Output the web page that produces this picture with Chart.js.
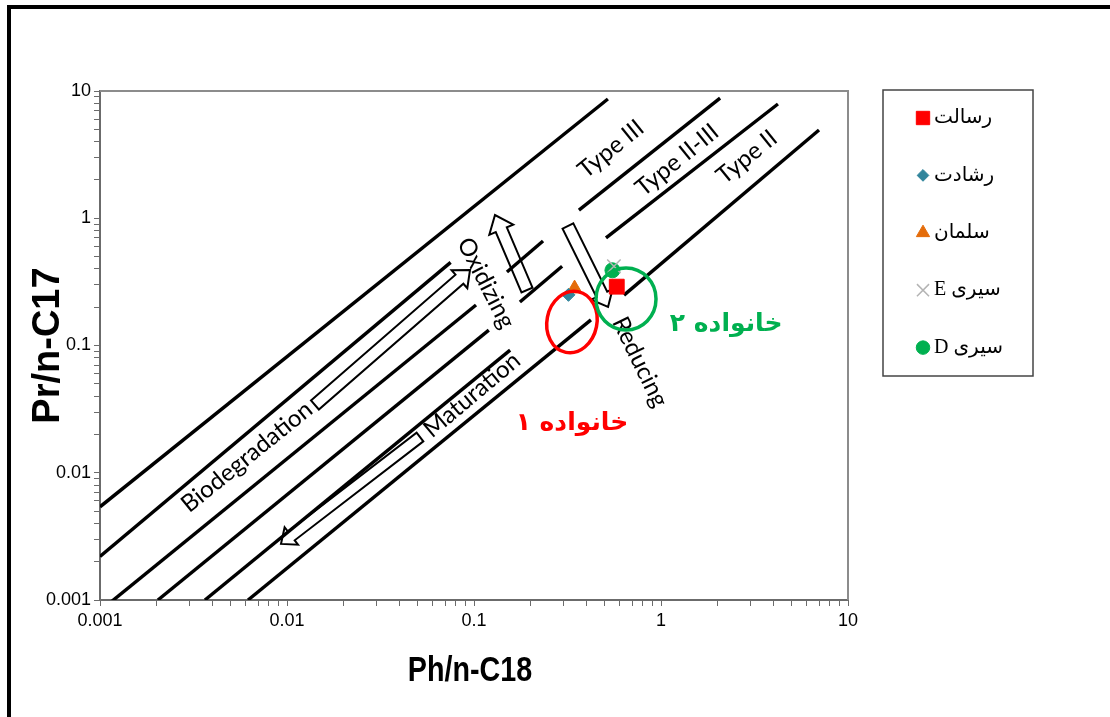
<!DOCTYPE html>
<html>
<head>
<meta charset="utf-8">
<script src="https://cdn.jsdelivr.net/npm/chart.js@4/dist/chart.umd.min.js"></script>
<style>
  html, body { margin: 0; padding: 0; background: #fff; overflow: hidden; }
  #wrap { position: relative; width: 1110px; height: 717px; }
  #frame { position: absolute; left: 7px; top: 5px; width: 1200px; height: 800px;
           border-left: 4px solid #000; border-top: 4px solid #000; pointer-events: none; }
  canvas { position: absolute; left: 0; top: 0; }
</style>
</head>
<body>
<div id="wrap">
  <canvas id="chart" width="1110" height="717"></canvas>
  <div id="frame"></div>
</div>
<script>
// samples (Ph/n-C18 , Pr/n-C17)
const sampleNames = ["رسالت", "رشادت", "سلمان", "سیری E", "سیری D"];
const phC18 = [0.58, 0.32, 0.345, 0.56, 0.55];
const prC17 = [0.29, 0.25, 0.28, 0.42, 0.39];

// marker look per sample
const markerStyles = ["rect", "rectRot", "triangle", "crossRot", "circle"];
const markerColors = ["#ff0000", "#31859c", "#e46c0a", "#b4b4b4", "#00b050"];
const markerRadius = [10.5, 6.5, 8.5, 9.5, 7.5];

// boundary lines, end points in data units [Ph/n-C18, Pr/n-C17]
const boundaryLines = [
  [[0.001, 0.0054], [0.52, 8.65]],
  [[0.001, 0.0022], [0.075, 0.45]],
  [[0.00115, 0.00097], [0.1025, 0.208]],
  [[0.15, 0.378], [0.234, 0.663]],
  [[0.364, 1.16], [2.07, 8.8]],
  [[0.00204, 0.001], [0.12, 0.132]],
  [[0.176, 0.22], [0.296, 0.42]],
  [[0.508, 0.7], [4.22, 7.9]],
  [[0.00364, 0.001], [0.156, 0.092]],
  [[0.00619, 0.001], [0.422, 0.159]],
  [[0.634, 0.249], [7.0, 4.94]],
];

// hollow arrows: tail -> tip
const arrowTails = [[0.0141, 0.0341], [0.0514, 0.0191], [0.192, 0.273], [0.318, 0.869]];
const arrowTips = [[0.0952, 0.392], [0.00929, 0.00276], [0.1295, 1.06], [0.521, 0.201]];
const arrowShaft = [12, 11, 12, 12];
const arrowHead = [24, 22, 26, 24];
const arrowHeadLen = [14, 13, 16, 14];

// text notes inside the plot
const noteTexts = ["Type III", "Type II-III", "Type II", "Biodegradation", "Maturation", "Oxidizing", "Reducing"];
const notePos = [[0.54, 3.5], [1.22, 2.87], [2.88, 3.03], [0.0061, 0.0133], [0.0976, 0.0408], [0.116, 0.31], [0.772, 0.0742]];
const noteAngle = [-39, -39, -39, -39, -40, 63, 64];

// families
const familyNames = ["خانواده ۱", "خانواده ۲"];
const familyTextPos = [[0.334, 0.0246], [2.23, 0.145]];
const familyRingPos = [[0.334, 0.153], [0.65, 0.232]];
const familyColors = ["#ff0000", "#00b050"];

// axis ticks
const decadeTicks = [0.001, 0.01, 0.1, 1, 10];
const decadeLabels = ["0.001", "0.01", "0.1", "1", "10"];
const minorSteps = [2, 3, 4, 5, 6, 7, 8, 9];
const xTitle = "Ph/n-C18";
const yTitle = "Pr/n-C17";

function logTicks() {
  const out = [];
  decadeTicks.forEach((d, i) => {
    out.push({ value: d, major: true });
    if (i < decadeTicks.length - 1) minorSteps.forEach((m) => out.push({ value: d * m, major: false }));
  });
  return out;
}

function decadeLabel(v) {
  const i = decadeTicks.findIndex((d) => Math.abs(d - v) / d < 1e-6);
  return i >= 0 ? decadeLabels[i] : "";
}

function blockArrow(ctx, x1, y1, x2, y2, shaft, head, headLen) {
  const ang = Math.atan2(y2 - y1, x2 - x1);
  const len = Math.hypot(x2 - x1, y2 - y1);
  ctx.save();
  ctx.translate(x1, y1);
  ctx.rotate(ang);
  ctx.beginPath();
  ctx.moveTo(0, -shaft / 2);
  ctx.lineTo(len - headLen, -shaft / 2);
  ctx.lineTo(len - headLen, -head / 2);
  ctx.lineTo(len, 0);
  ctx.lineTo(len - headLen, head / 2);
  ctx.lineTo(len - headLen, shaft / 2);
  ctx.lineTo(0, shaft / 2);
  ctx.closePath();
  ctx.fillStyle = "#fff";
  ctx.fill();
  ctx.lineWidth = 2;
  ctx.strokeStyle = "#000";
  ctx.stroke();
  ctx.restore();
}

const overlay = {
  id: "overlay",
  beforeDatasetsDraw(chart) {
    const { ctx, scales: { x, y } } = chart;
    arrowTails.forEach((t, i) => {
      const h = arrowTips[i];
      blockArrow(ctx,
        x.getPixelForValue(t[0]), y.getPixelForValue(t[1]),
        x.getPixelForValue(h[0]), y.getPixelForValue(h[1]),
        arrowShaft[i], arrowHead[i], arrowHeadLen[i]);
    });
  },
  afterDatasetsDraw(chart) {
    const { ctx, scales: { x, y } } = chart;
    ctx.save();
    ctx.textAlign = "center";
    ctx.textBaseline = "middle";
    ctx.fillStyle = "#000";
    ctx.font = "24px Lato";
    noteTexts.forEach((t, i) => {
      ctx.save();
      ctx.translate(x.getPixelForValue(notePos[i][0]), y.getPixelForValue(notePos[i][1]));
      ctx.rotate((noteAngle[i] * Math.PI) / 180);
      ctx.fillText(t, 0, 0);
      ctx.restore();
    });

    // family rings
    ctx.lineWidth = 3.5;
    ctx.strokeStyle = familyColors[0];
    ctx.beginPath();
    ctx.ellipse(x.getPixelForValue(familyRingPos[0][0]), y.getPixelForValue(familyRingPos[0][1]), 25, 31, 0.2, 0, Math.PI * 2);
    ctx.stroke();
    ctx.strokeStyle = familyColors[1];
    ctx.beginPath();
    ctx.ellipse(x.getPixelForValue(familyRingPos[1][0]), y.getPixelForValue(familyRingPos[1][1]), 30, 31, 0, 0, Math.PI * 2);
    ctx.stroke();

    ctx.font = 'bold 25px "DejaVu Sans"';
    familyNames.forEach((t, i) => {
      ctx.fillStyle = familyColors[i];
      ctx.fillText(t, x.getPixelForValue(familyTextPos[i][0]), y.getPixelForValue(familyTextPos[i][1]));
    });
    ctx.restore();
  },
  afterDraw(chart) {
    const { ctx, chartArea: a } = chart;
    ctx.save();
    // plot frame
    ctx.strokeStyle = "#8c8c8c";
    ctx.lineWidth = 2;
    ctx.beginPath();
    ctx.moveTo(a.left, a.top);
    ctx.lineTo(a.right, a.top);
    ctx.lineTo(a.right, a.bottom);
    ctx.stroke();

    // x axis title, condensed like the original
    ctx.save();
    ctx.translate((a.left + a.right) / 2 - 4, 671);
    ctx.scale(0.82, 1);
    ctx.font = 'bold 35px "Liberation Sans", Arial';
    ctx.fillStyle = "#000";
    ctx.textAlign = "center";
    ctx.textBaseline = "middle";
    ctx.fillText(xTitle, 0, 0);
    ctx.restore();

    // legend
    ctx.strokeStyle = "#444";
    ctx.lineWidth = 1.5;
    ctx.strokeRect(883, 90, 150, 286);
    ctx.font = '20px "Liberation Serif", "DejaVu Sans"';
    ctx.textBaseline = "middle";
    ctx.direction = "rtl";
    ctx.textAlign = "left";
    sampleNames.forEach((name, i) => {
      const cy = 118 + i * 57.4;
      ctx.fillStyle = markerColors[i];
      ctx.strokeStyle = markerColors[i];
      ctx.lineWidth = markerStyles[i] === "crossRot" ? 1.5 : 1;
      Chart.helpers.drawPoint(ctx, {
        pointStyle: markerStyles[i], rotation: 0,
        radius: markerRadius[i] * 0.9, borderWidth: ctx.lineWidth,
      }, 923, cy);
      ctx.fillStyle = "#000";
      ctx.fillText(name, 934, cy);
    });
    ctx.restore();
  },
};

const sampleSets = sampleNames.map((name, i) => ({
  type: "scatter",
  label: name,
  data: [{ x: phC18[i], y: prC17[i] }],
  pointStyle: markerStyles[i],
  pointRadius: markerRadius[i],
  pointBackgroundColor: markerColors[i],
  pointBorderColor: markerColors[i],
  pointBorderWidth: markerStyles[i] === "crossRot" ? 1.5 : 1,
  order: 0,
}));

const lineSets = boundaryLines.map((seg) => ({
  type: "line",
  label: "",
  data: seg.map((p) => ({ x: p[0], y: p[1] })),
  borderColor: "#000",
  borderWidth: 3.4,
  pointRadius: 0,
  fill: false,
  tension: 0,
  order: 1,
}));

const tickFont = { family: '"Liberation Sans", Arial', size: 18 };

new Chart(document.getElementById("chart"), {
  type: "scatter",
  data: { datasets: [...sampleSets, ...lineSets] },
  options: {
    responsive: false,
    animation: false,
    events: [],
    layout: { padding: { left: 0, top: 91, right: 262, bottom: 0 } },
    plugins: { legend: { display: false }, tooltip: { enabled: false } },
    scales: {
      x: {
        type: "logarithmic",
        min: 0.001,
        max: 10,
        afterBuildTicks: (s) => { s.ticks = logTicks(); },
        afterFit: (s) => { s.height = 117; },
        ticks: { autoSkip: false, maxRotation: 0, color: "#000", padding: 4, font: tickFont,
                 callback: (v) => decadeLabel(v) },
        grid: { drawOnChartArea: false, drawTicks: true, tickLength: 6, color: "#6b6b6b" },
        border: { display: true, color: "#6b6b6b", width: 2 },
      },
      y: {
        type: "logarithmic",
        min: 0.001,
        max: 10,
        afterBuildTicks: (s) => { s.ticks = logTicks(); },
        afterFit: (s) => { s.width = 100; },
        ticks: { autoSkip: false, color: "#000", padding: 3, font: tickFont,
                 callback: (v) => decadeLabel(v) },
        grid: { drawOnChartArea: false, drawTicks: true, tickLength: 6, color: "#6b6b6b" },
        border: { display: true, color: "#6b6b6b", width: 2 },
        title: { display: true, text: yTitle, color: "#000",
                 font: { family: '"Liberation Sans", Arial', size: 38, weight: "bold" },
                 padding: { top: 26, bottom: 0 } },
      },
    },
  },
  plugins: [overlay],
});
</script>
</body>
</html>
